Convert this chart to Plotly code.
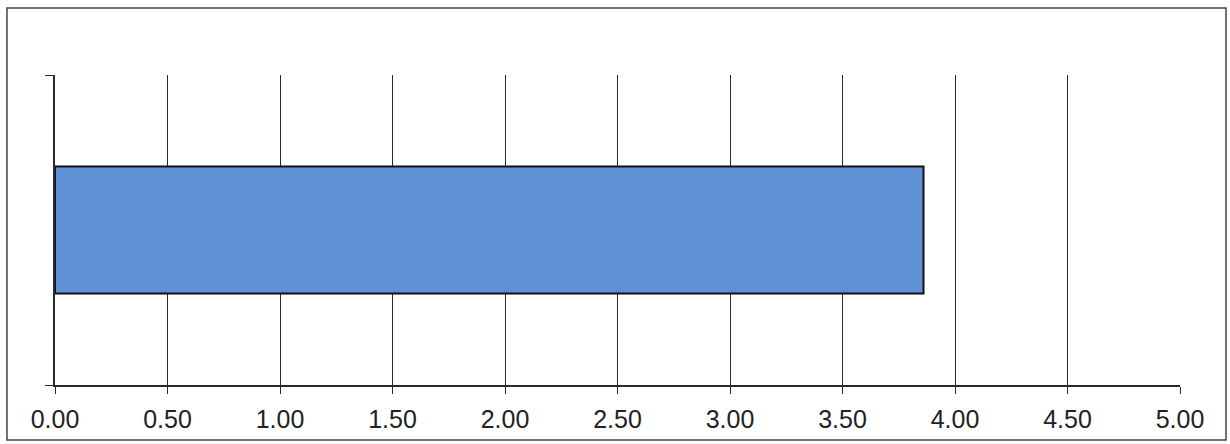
import plotly.graph_objects as go

# Single-category horizontal bar
categories = [0]
values = [3.86]
x_ticks = [0.0, 0.5, 1.0, 1.5, 2.0, 2.5, 3.0, 3.5, 4.0, 4.5, 5.0]
x_tick_labels = [f"{v:.2f}" for v in x_ticks]

fig = go.Figure()
fig.add_trace(go.Bar(
    x=values,
    y=categories,
    orientation="h",
    width=0.41,
    marker=dict(color="#5f91d7", line=dict(color="#111111", width=2)),
    hoverinfo="skip",
))

fig.update_layout(
    width=1230,
    height=444,
    margin=dict(l=55, r=50, t=75, b=59),
    paper_bgcolor="white",
    plot_bgcolor="white",
    showlegend=False,
    font=dict(family="Liberation Sans, Arial, sans-serif", size=25, color="#222222"),
    xaxis=dict(
        range=[0, 5],
        tickmode="array",
        tickvals=x_ticks,
        ticktext=x_tick_labels,
        tickfont=dict(family="Liberation Sans, Arial, sans-serif", size=25, color="#222222"),
        tickangle=0,
        ticklabelstandoff=4,
        showgrid=True,
        gridcolor="#2a2a2a",
        gridwidth=1,
        showline=True,
        linecolor="#2a2a2a",
        linewidth=1.5,
        ticks="outside",
        ticklen=7,
        tickcolor="#2a2a2a",
        zeroline=False,
        fixedrange=True,
    ),
    yaxis=dict(
        range=[-0.5, 0.5],
        tickvals=[-0.5, 0.5],
        showticklabels=False,
        showgrid=False,
        showline=True,
        linecolor="#2a2a2a",
        linewidth=1.5,
        ticks="outside",
        ticklen=8,
        tickcolor="#2a2a2a",
        zeroline=False,
        fixedrange=True,
    ),
    shapes=[
        # outer chart frame
        dict(
            type="rect",
            xref="paper", yref="paper",
            x0=-0.0427, x1=1.0409, y0=-0.1774, y1=1.216,
            line=dict(color="#444444", width=1.5),
            fillcolor="rgba(0,0,0,0)",
            layer="below",
        )
    ],
)

fig.write_html("out.html")
